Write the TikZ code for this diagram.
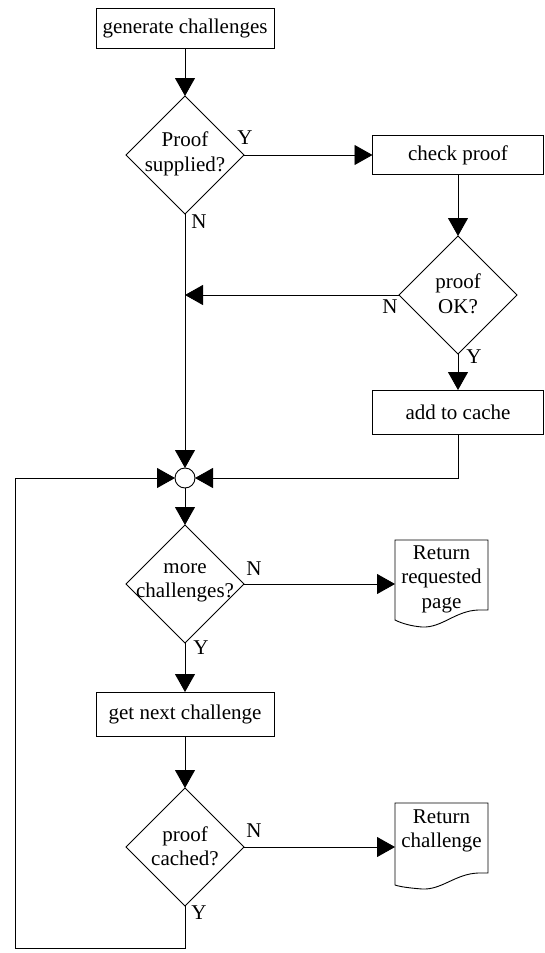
\documentclass[tikz,border=0pt]{standalone}
\usepackage{fontspec}
\setmainfont{Liberation Serif}
\usetikzlibrary{arrows.meta,shapes.geometric}
\begin{document}
\begin{tikzpicture}[x=1pt,y=-1pt,
  line width=0.9pt,
  every node/.style={font=\fontsize{21}{24.5}\selectfont},
  stepbox/.style={draw, rectangle, inner sep=0pt, outer sep=0pt},
  decision/.style={draw, diamond, inner sep=0pt, outer sep=0pt, minimum width=118pt, minimum height=118pt},
  dtext/.style={align=center, inner sep=0pt},
  junction/.style={draw, circle, inner sep=0pt, outer sep=0pt, minimum size=20pt},
  lbl/.style={inner sep=0pt},
  flow/.style={-{Triangle[length=18pt,width=20pt]}},
  doctext/.style={align=center, inner sep=0pt}
]
\useasboundingbox (0,0) rectangle (544,953);

% process boxes
\node[stepbox, minimum width=178pt, minimum height=40pt] (gen) at (185,28) {generate challenges};
\node[stepbox, minimum width=171pt, minimum height=39pt] (check) at (458,155) {check proof};
\node[stepbox, minimum width=171pt, minimum height=44pt] (cache) at (458,412) {add to cache};
\node[stepbox, minimum width=178pt, minimum height=44pt] (next) at (185,714) {get next challenge};

% decisions
\node[decision] (d1) at (185,155) {};
\node[dtext] at (185,154) {Proof\\supplied?};
\node[decision] (d2) at (458,295) {};
\node[dtext] at (458,294) {proof\\OK?};
\node[decision] (d3) at (185,584) {};
\node[dtext] at (185,583) {more\\challenges?};
\node[decision] (d4) at (185,847) {};
\node[dtext] at (185,846) {proof\\cached?};

% merge point
\node[junction] (circ) at (185,478) {};

% terminal documents
\node[minimum width=93pt, minimum height=60pt, inner sep=0pt, outer sep=0pt] (doc1) at (441.5,584) {};
\draw (395,540) -- (488,540) -- (488,610) -- (478,610)
  .. controls (455,611) and (442,628) .. (422,627)
  .. controls (410,626) and (401,623) .. (395,620) -- cycle;
\node[doctext] at (441.5,579) {Return\\requested\\page};

\node[minimum width=93pt, minimum height=60pt, inner sep=0pt, outer sep=0pt] (doc2) at (441.5,847) {};
\draw (395,803) -- (488,803) -- (488,873) -- (478,873)
  .. controls (455,874) and (442,890) .. (422,889)
  .. controls (410,888) and (401,887) .. (395,885) -- cycle;
\node[doctext] at (441.5,831) {Return\\challenge};

% branch labels
\node[lbl] at (245,138) {Y};
\node[lbl] at (199,222) {N};
\node[lbl] at (390,307) {N};
\node[lbl] at (474,357) {Y};
\node[lbl] at (254,569) {N};
\node[lbl] at (201,648) {Y};
\node[lbl] at (254,831) {N};
\node[lbl] at (199,913) {Y};

% helper points
\coordinate (mj) at (185,295);
\coordinate (cr) at (458,478);
\coordinate (lb) at (185,948);
\coordinate (ll) at (15,948);
\coordinate (lt) at (15,478);

% connectors
\draw[flow] (gen) -- (d1);
\draw[flow] (d1) -- (check);
\draw[flow] (check) -- (d2);
\draw[flow] (d2) -- (mj);
\draw[flow] (d2) -- (cache);
\draw[flow] (d1) -- (circ);
\draw[flow] (cache.south) -- (cr) -- (circ);
\draw[flow] (circ) -- (d3);
\draw[flow] (d3) -- (doc1.west);
\draw[flow] (d3) -- (next);
\draw[flow] (next) -- (d4);
\draw[flow] (d4) -- (doc2.west);
\draw[flow] (d4.south) -- (lb) -- (ll) -- (lt) -- (circ);
\end{tikzpicture}
\end{document}
